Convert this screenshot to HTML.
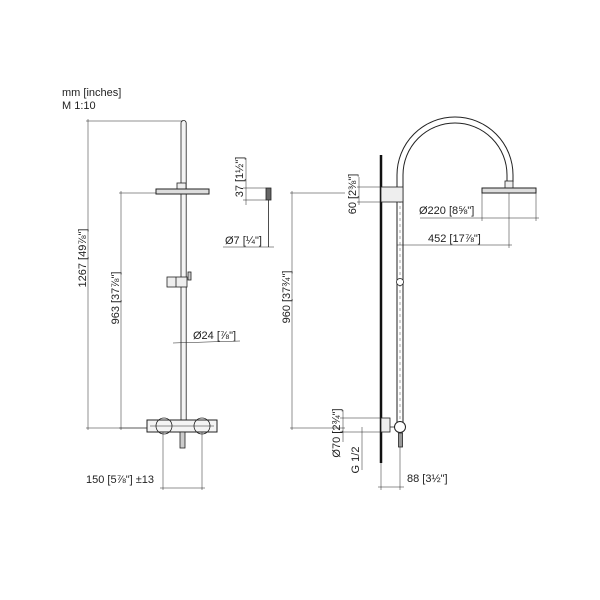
<!DOCTYPE html>
<html><head><meta charset="utf-8"><style>
html,body{margin:0;padding:0;background:#fff}
svg{display:block}
text{font-family:"Liberation Sans",sans-serif;font-size:11px;fill:#222}
</style></head><body>
<svg width="600" height="600" viewBox="0 0 600 600" xmlns="http://www.w3.org/2000/svg">
<g stroke="#222" stroke-width="0.8" fill="none">
<path d="M181 428 V123 a2.6 2.6 0 0 1 5.2 0 V428" fill="#f4f4f4"/>
<rect x="177" y="183" width="9" height="6" fill="#eee"/>
<rect x="156" y="189" width="53" height="5" fill="#ddd" stroke-width="1"/>
<rect x="167" y="277" width="20" height="10" fill="#eee"/>
<line x1="176" y1="277" x2="176" y2="287"/>
<rect x="188" y="272" width="3" height="8" fill="#ccc"/>
<rect x="147" y="420" width="70" height="12" fill="#f4f4f4" stroke-width="1"/>
<circle cx="164" cy="426" r="8"/>
<circle cx="202" cy="426" r="8"/>
<rect x="180" y="432" width="5" height="16" fill="#ccc"/>
<line x1="150" y1="426" x2="214" y2="426" stroke-width="0.5"/>
<line x1="86" y1="121" x2="183" y2="121" stroke-width="0.5"/>
<line x1="88" y1="119" x2="88" y2="430" stroke-width="0.5"/>
<line x1="86" y1="428" x2="147" y2="428" stroke-width="0.5"/>
<line x1="119" y1="193" x2="156" y2="193" stroke-width="0.5"/>
<line x1="121" y1="191" x2="121" y2="430" stroke-width="0.5"/>
<line x1="119" y1="428" x2="147" y2="428" stroke-width="0.5"/>
<line x1="173" y1="343" x2="240" y2="341" stroke-width="0.5"/>
<line x1="163" y1="432" x2="163" y2="490" stroke-width="0.5"/>
<line x1="202" y1="432" x2="202" y2="490" stroke-width="0.5"/>
<line x1="160" y1="488" x2="205" y2="488" stroke-width="0.5"/>
<rect x="266" y="188" width="5" height="12" fill="#666"/>
<line x1="268.5" y1="200" x2="268.5" y2="247"/>
<line x1="243" y1="188" x2="266" y2="188" stroke-width="0.5"/>
<line x1="243" y1="200" x2="266" y2="200" stroke-width="0.5"/>
<line x1="246" y1="158" x2="246" y2="205" stroke-width="0.5"/>
<line x1="223" y1="247" x2="274" y2="247" stroke-width="0.5"/>
<line x1="292" y1="191" x2="292" y2="430" stroke-width="0.5"/>
<line x1="290" y1="193" x2="345" y2="193" stroke-width="0.5"/>
<line x1="290" y1="428" x2="345" y2="428" stroke-width="0.5"/>
<line x1="381" y1="155" x2="381" y2="463" stroke="#111" stroke-width="2.5"/>
<path d="M397 423 V175 A58 58 0 0 1 513 175 V182" fill="none" stroke-width="1"/>
<path d="M403 423 V175 A52 52 0 0 1 507 175 V182" fill="none" stroke-width="1"/>
<line x1="400" y1="200" x2="400" y2="420" stroke-dasharray="3 3" stroke-width="0.4"/>
<rect x="505" y="181" width="8" height="7" fill="#eee"/>
<rect x="482" y="188" width="54" height="5" fill="#ddd" stroke-width="1"/>
<line x1="482" y1="193" x2="482" y2="221" stroke-width="0.5"/>
<line x1="536" y1="193" x2="536" y2="221" stroke-width="0.5"/>
<line x1="420" y1="218" x2="539" y2="218" stroke-width="0.5"/>
<line x1="509" y1="193" x2="509" y2="248" stroke-width="0.5"/>
<line x1="397" y1="245" x2="512" y2="245" stroke-width="0.5"/>
<rect x="381" y="187" width="22" height="15" fill="#eee"/>
<line x1="357" y1="187" x2="381" y2="187" stroke-width="0.5"/>
<line x1="357" y1="202" x2="381" y2="202" stroke-width="0.5"/>
<line x1="359" y1="177" x2="359" y2="205" stroke-width="0.5"/>
<circle cx="400" cy="282" r="3.5" fill="#fff"/>
<rect x="381" y="418" width="9" height="14" fill="#eee"/>
<line x1="390" y1="427" x2="396" y2="427"/>
<circle cx="400" cy="427" r="5.5" fill="#fff" stroke-width="1"/>
<rect x="398.5" y="433" width="4" height="14" fill="#999"/>
<line x1="340" y1="418" x2="381" y2="418" stroke-width="0.5"/>
<line x1="340" y1="432" x2="381" y2="432" stroke-width="0.5"/>
<line x1="343" y1="410" x2="343" y2="442" stroke-width="0.5"/>
<line x1="362" y1="427" x2="362" y2="470" stroke-width="0.5"/>
<line x1="381" y1="463" x2="381" y2="490" stroke-width="0.5"/>
<line x1="400" y1="447" x2="400" y2="490" stroke-width="0.5"/>
<line x1="378" y1="487" x2="404" y2="487" stroke-width="0.5"/>
</g>
<text x="62" y="96">mm [inches]</text>
<text x="62" y="109">M 1:10</text>
<text transform="translate(86,258) rotate(-90)" text-anchor="middle">1267 [49⅞"]</text>
<text transform="translate(119,298) rotate(-90)" text-anchor="middle">963 [37⅞"]</text>
<text x="193" y="339">Ø24 [⅞"]</text>
<text x="86" y="483">150 [5⅞"] ±13</text>
<text transform="translate(243,177) rotate(-90)" text-anchor="middle">37 [1½"]</text>
<text x="225" y="244">Ø7 [¼"]</text>
<text transform="translate(290,297) rotate(-90)" text-anchor="middle">960 [37¾"]</text>
<text transform="translate(356,194) rotate(-90)" text-anchor="middle">60 [2⅜"]</text>
<text x="419" y="214">Ø220 [8⅝"]</text>
<text x="428" y="242">452 [17⅞"]</text>
<text transform="translate(340,433) rotate(-90)" text-anchor="middle">Ø70 [2¾"]</text>
<text transform="translate(359,460) rotate(-90)" text-anchor="middle">G 1/2</text>
<text x="407" y="482">88 [3½"]</text>
</svg>
</body></html>
